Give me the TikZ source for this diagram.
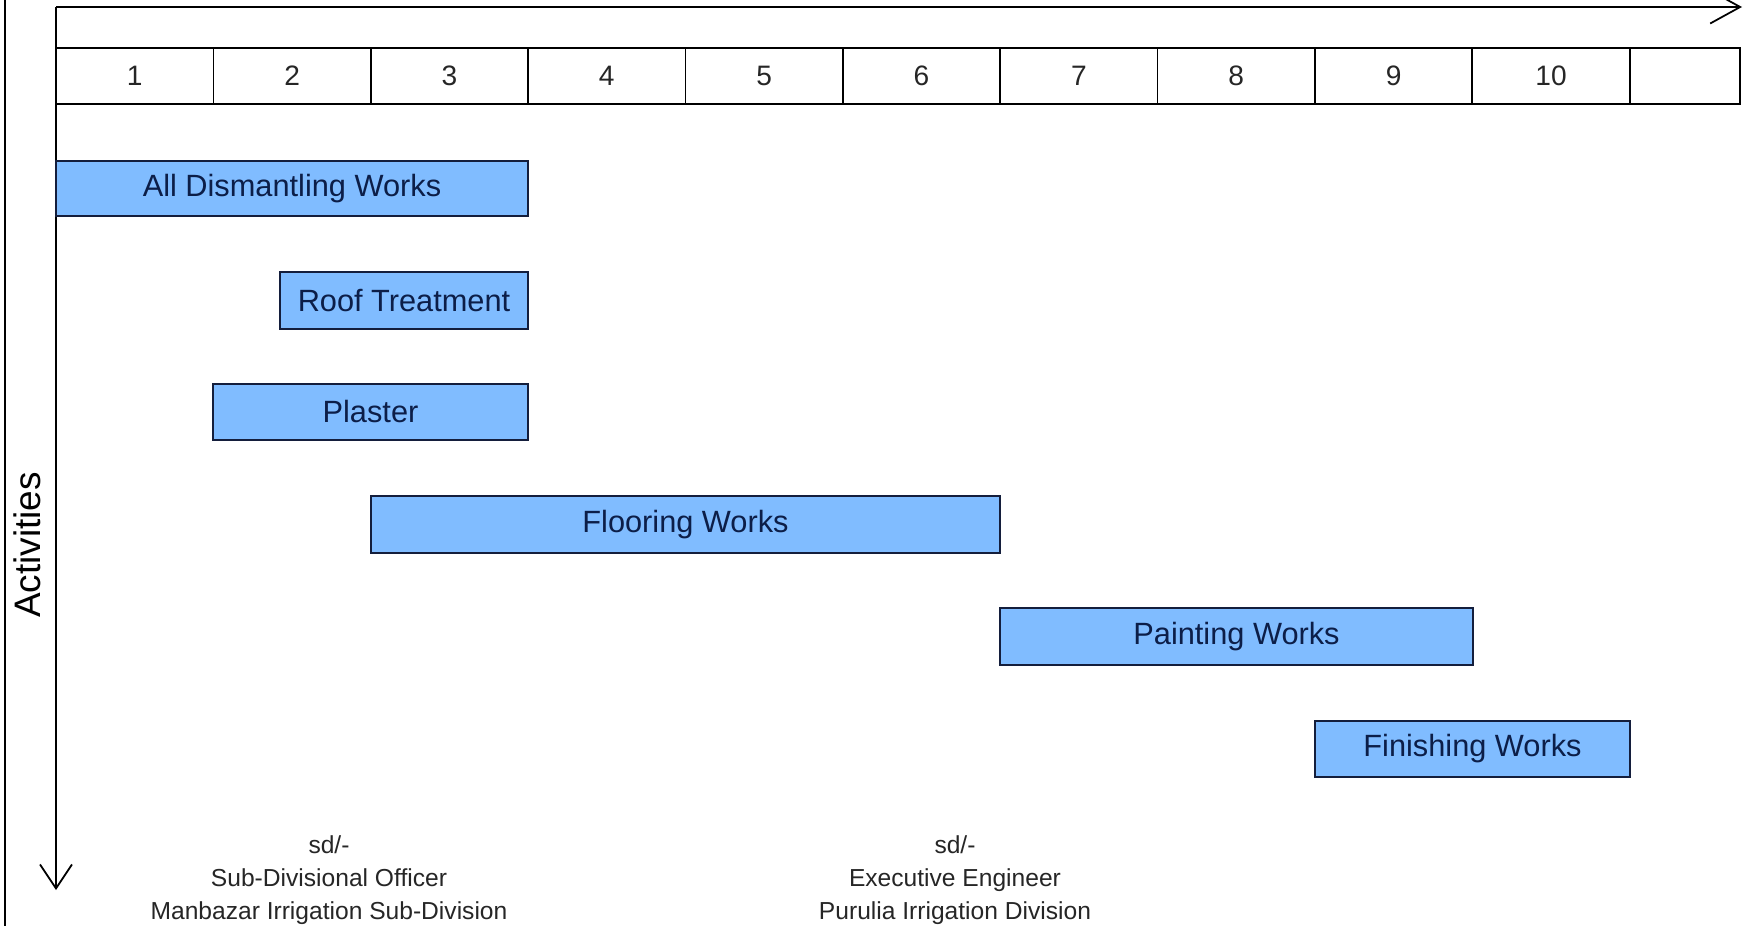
\documentclass[tikz,border=0pt]{standalone}
\usepackage{fontspec}
\setmainfont{Liberation Sans}
\usetikzlibrary{positioning,fit,arrows.meta}
\definecolor{barblue}{RGB}{128,188,255}
\definecolor{barline}{RGB}{20,30,60}
\definecolor{bartext}{RGB}{12,30,72}
\begin{document}
\begin{tikzpicture}[x=0.02cm,y=-0.02cm,inner sep=0pt,outer sep=0pt,line width=1pt,
daycell/.style={draw,rectangle,minimum width=3.148cm,minimum height=1.12cm,font=\fontsize{16}{19}\selectfont,text=black!85},
taskbar/.style={draw=barline,fill=barblue,rectangle},
barlabel/.style={text=bartext,font=\fontsize{17.5}{21}\selectfont},
signtext/.style={align=center,font=\fontsize{14}{18.7}\selectfont,text=black!85}]

\useasboundingbox (0,0) rectangle (1744,926);
\draw (5,0) -- (5,926);

% axes
\coordinate (origin) at (56,7);
\coordinate (timeend) at (1742,7);
\coordinate (actend) at (56,890);
\draw[-{Straight Barb[length=0.6cm,width=0.66cm]}] (origin) -- (timeend);
\draw[-{Straight Barb[length=0.48cm,width=0.64cm]}] (origin) -- (actend);
\node[rotate=90,font=\fontsize{21}{25}\selectfont] (act) at (27,545) {Activities};

% time row
\node[daycell] (d1) at (134.7,76) {1};
\node[daycell,right=0pt of d1] (d2) {2};
\node[daycell,right=0pt of d2] (d3) {3};
\node[daycell,right=0pt of d3] (d4) {4};
\node[daycell,right=0pt of d4] (d5) {5};
\node[daycell,right=0pt of d5] (d6) {6};
\node[daycell,right=0pt of d6] (d7) {7};
\node[daycell,right=0pt of d7] (d8) {8};
\node[daycell,right=0pt of d8] (d9) {9};
\node[daycell,right=0pt of d9] (d10) {10};
\node[daycell,right=0pt of d10,minimum width=2.2cm] (d11) {};

% activities
\node[taskbar,fit={(56,161) (528,216)},label={[barlabel]center:All Dismantling Works}] (dismantle) {};
\node[taskbar,fit={(280,272) (528,329)},label={[barlabel]center:Roof Treatment}] (roof) {};
\node[taskbar,fit={(213,384) (528,440)},label={[barlabel]center:Plaster}] (plaster) {};
\node[taskbar,fit={(371,496) (1000,553)},label={[barlabel]center:Flooring Works}] (floor) {};
\node[taskbar,fit={(1000,608) (1473,665)},label={[barlabel]center:Painting Works}] (paint) {};
\node[taskbar,fit={(1315,721) (1630,777)},label={[barlabel]center:Finishing Works}] (finish) {};

% signatures
\node[signtext] (sdo) at (329,880) {sd/-\\Sub-Divisional Officer\\Manbazar Irrigation Sub-Division};
\node[signtext] (ee) at (955,880) {sd/-\\Executive Engineer\\Purulia Irrigation Division};
\end{tikzpicture}
\end{document}
